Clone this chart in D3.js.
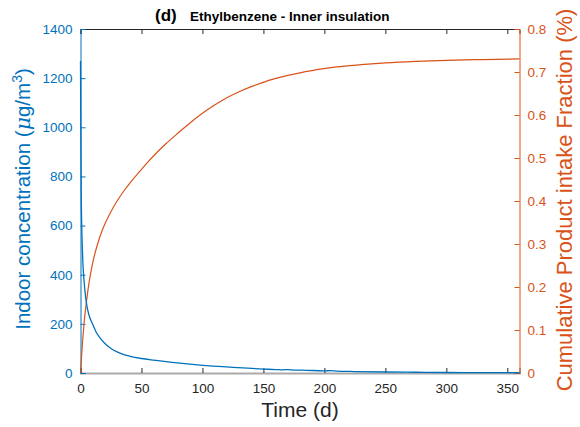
<!DOCTYPE html>
<html>
<head>
<meta charset="utf-8">
<script src="https://cdn.jsdelivr.net/npm/d3@7"></script>
<style>
  body { margin: 0; background: #fff; }
  svg { font-family: "Liberation Sans", Arial, Helvetica, sans-serif; }
</style>
</head>
<body>
<svg id="chart" width="580" height="427"></svg>
<script>
// Indoor concentration of ethylbenzene (µg/m3) over time (days)
const concTime  = [0, 0.25, 0.5, 1, 1.5, 2, 3, 4, 5, 7, 10, 13, 16, 20, 25, 30, 35, 40, 50, 60, 75, 100, 125, 150, 160, 165, 170, 175, 185, 200, 205, 210, 225, 250, 275, 300, 330, 360];
const concValue = [1270, 1000, 780, 600, 510, 445, 370, 318, 280, 235, 198, 165, 143, 120, 100, 86, 76, 69, 59, 52, 43, 31, 23, 16, 14, 13, 14, 12, 11, 9, 9.5, 8, 6, 4, 3, 2, 1.5, 1];

// Cumulative product intake fraction (%) over time (days)
const fracTime  = [0, 1, 2, 3, 5, 7, 10, 14, 18, 24, 30, 36, 42, 48, 55, 62, 70, 80, 90, 100, 110, 120, 130, 140, 150, 160, 170, 180, 195, 210, 230, 250, 275, 300, 330, 360];
const fracValue = [0, 0.045, 0.085, 0.118, 0.168, 0.210, 0.256, 0.300, 0.333, 0.370, 0.400, 0.425, 0.447, 0.467, 0.490, 0.511, 0.533, 0.558, 0.582, 0.604, 0.623, 0.640, 0.654, 0.666, 0.676, 0.685, 0.692, 0.698, 0.706, 0.712, 0.717, 0.721, 0.7245, 0.727, 0.729, 0.7305];

const xTicks = [0, 50, 100, 150, 200, 250, 300, 350];
const leftTicks = [0, 200, 400, 600, 800, 1000, 1200, 1400];
const rightTicks = [0, 0.1, 0.2, 0.3, 0.4, 0.5, 0.6, 0.7, 0.8];

const BLUE = "#0072BD", ORANGE = "#D95319", DARK = "#262626";
const m = { left: 80.5, right: 519.5, top: 29, bottom: 373 };

const svg = d3.select("#chart");
const x = d3.scaleLinear().domain([0, 360]).range([m.left, m.right]);
const yL = d3.scaleLinear().domain([0, 1400]).range([m.bottom, m.top]);
const yR = d3.scaleLinear().domain([0, 0.8]).range([m.bottom, m.top]);

// top border with inward ticks
svg.append("g").attr("transform", `translate(0,${m.top})`)
  .call(d3.axisTop(x).tickValues(xTicks).tickSize(-5).tickFormat(""))
  .call(g => { g.select(".domain").attr("stroke", DARK); g.selectAll(".tick line").attr("stroke", DARK); });

// bottom axis
const xAxis = svg.append("g").attr("transform", `translate(0,${m.bottom})`)
  .call(d3.axisBottom(x).tickValues(xTicks).tickSize(-5).tickPadding(10));
xAxis.select(".domain").attr("stroke", "#aaaaaa").attr("stroke-width", 2);
xAxis.selectAll(".tick line").attr("stroke", DARK);
xAxis.selectAll(".tick text").attr("fill", DARK).attr("font-size", 13.5);

// left axis
const lAxis = svg.append("g").attr("transform", `translate(${m.left},0)`)
  .call(d3.axisLeft(yL).tickValues(leftTicks).tickSize(-5).tickPadding(8).tickFormat(d3.format("d")));
lAxis.select(".domain").attr("stroke", BLUE);
lAxis.selectAll(".tick line").attr("stroke", BLUE);
lAxis.selectAll(".tick text").attr("fill", BLUE).attr("font-size", 13.5);

// right axis
const rAxis = svg.append("g").attr("transform", `translate(${m.right},0)`)
  .call(d3.axisRight(yR).tickValues(rightTicks).tickSize(-5).tickPadding(8).tickFormat(d => d === 0 ? "0" : d3.format(".1f")(d)));
rAxis.select(".domain").attr("stroke", ORANGE);
rAxis.selectAll(".tick line").attr("stroke", ORANGE);
rAxis.selectAll(".tick text").attr("fill", ORANGE).attr("font-size", 13.5);

// curves
const concLine = d3.line().x((d, i) => x(concTime[i])).y(d => yL(d)).curve(d3.curveMonotoneX);
const fracLine = d3.line().x((d, i) => x(fracTime[i])).y(d => yR(d)).curve(d3.curveMonotoneX);

svg.append("path").attr("d", fracLine(fracValue))
  .attr("fill", "none").attr("stroke", ORANGE).attr("stroke-width", 1.2);
svg.append("path").attr("d", concLine(concValue))
  .attr("fill", "none").attr("stroke", BLUE).attr("stroke-width", 1.3);

// axis titles
svg.append("text").attr("x", (m.left + m.right) / 2).attr("y", 417)
  .attr("text-anchor", "middle").attr("font-size", 21).attr("fill", DARK).text("Time (d)");

const lt = svg.append("text").attr("transform", `translate(30,199) rotate(-90)`)
  .attr("text-anchor", "middle").attr("font-size", 20.5).attr("fill", BLUE);
lt.append("tspan").text("Indoor concentration (");
lt.append("tspan").attr("font-style", "italic").attr("font-family", "'DejaVu Serif', serif").text("μ");
lt.append("tspan").text("g/m");
lt.append("tspan").attr("font-size", 14).attr("dy", -8).text("3");
lt.append("tspan").attr("dy", 8).text(")");

svg.append("text").attr("transform", `translate(572,200) rotate(-90)`)
  .attr("text-anchor", "middle").attr("font-size", 22).attr("fill", ORANGE)
  .text("Cumulative Product intake Fraction (%)");

// chart title
const title = svg.append("text").attr("y", 21).attr("fill", "#000").attr("font-weight", "bold");
title.append("tspan").attr("x", 155).attr("font-size", 17).text("(d)");
title.append("tspan").attr("x", 190).attr("font-size", 13.5).text("Ethylbenzene - Inner insulation");
</script>
</body>
</html>
